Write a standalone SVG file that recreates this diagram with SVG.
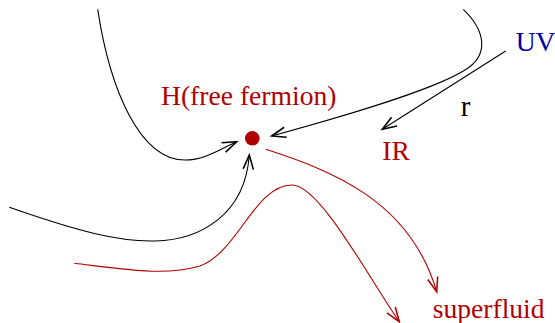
<svg xmlns="http://www.w3.org/2000/svg" width="555" height="323" viewBox="0 0 555 323">
<style>
.t{font-family:"Liberation Serif","Times New Roman",serif;font-size:27.6px}
.red{fill:#b00000}
.blue{fill:#0000a0}
.blk{fill:#000}
.c{fill:none;stroke-width:1.1}
.k{stroke:#000}
.r{stroke:#b00000}
</style>
<defs>
<marker id="ak" markerUnits="userSpaceOnUse" orient="auto" refX="0" refY="0" markerWidth="20" markerHeight="20" viewBox="-12 -6 14 12" overflow="visible">
<path d="M-10,-3.6 L0,0 L-10,3.6" fill="none" stroke="#000" stroke-width="1.1"/>
</marker>
<marker id="ar" markerUnits="userSpaceOnUse" orient="auto" refX="0" refY="0" markerWidth="20" markerHeight="20" viewBox="-12 -6 14 12" overflow="visible">
<path d="M-10,-3.6 L0,0 L-10,3.6" fill="none" stroke="#b00000" stroke-width="1.1"/>
</marker>
</defs>
<g id="connectors">
<path class="c k" d="M97.7,9.3 C110,90 140,160 185,160 C205,160 220,149 236.7,141.7" marker-end="url(#ak)"/>
<path class="c k" d="M463.3,9.3 C485,30 490,55 465,70 C430,92 330,120 271.7,136" marker-end="url(#ak)"/>
<path class="c k" d="M505.7,51 L382.3,129.3" marker-end="url(#ak)"/>
<path class="c k" d="M9.3,207.3 C80,232 120,242 155,241 C200,240 245,215 249.3,155" marker-end="url(#ak)"/>
<path class="c r" d="M265.7,149.3 C330,170 410,200 436.7,291.7" marker-end="url(#ar)"/>
<path class="c r" d="M74.3,263.3 C130,270 165,276 200,266 C238,252 255,185 292,185 C320,185 370,280 399.3,321.7" marker-end="url(#ar)"/>
</g>
<g id="fixed-point">
<circle cx="252.3" cy="138.3" r="7.3" fill="#b00000"/>
<text class="t red" x="161" y="105">H(free fermion)</text>
</g>
<g id="uv"><text class="t blue" x="515.7" y="50.7">UV</text></g>
<g id="ir"><text class="t red" x="382.3" y="160">IR</text></g>
<g id="r-label"><text class="t blk" x="460.7" y="116" style="font-size:29px">r</text></g>
<g id="superfluid"><text class="t red" x="432.7" y="318">superfluid</text></g>
</svg>
